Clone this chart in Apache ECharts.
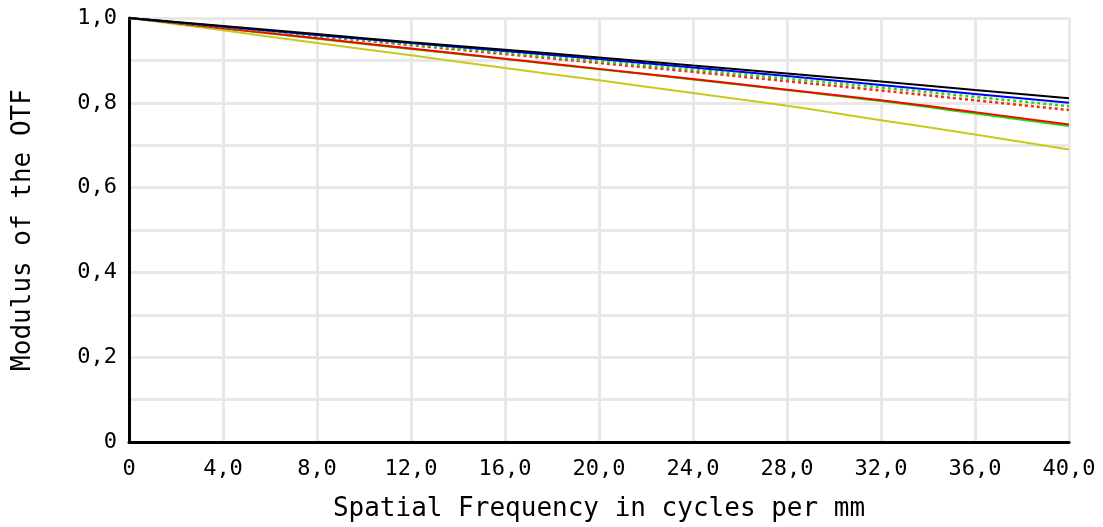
<!DOCTYPE html>
<html><head><meta charset="utf-8">
<script src="https://cdn.jsdelivr.net/npm/echarts@6/dist/echarts.min.js"></script>
<style>html,body{margin:0;padding:0;background:#fff}#c{width:1103px;height:527px}</style>
</head><body><div id="c"></div>
<script>
const freq = [0, 4, 8, 12, 16, 20, 24, 28, 32, 36, 40];
const blackSolid = [1, 0.981, 0.962, 0.943, 0.925, 0.907, 0.888, 0.869, 0.850, 0.830, 0.811];
const blueSolid = [1, 0.980, 0.960, 0.941, 0.922, 0.903, 0.883, 0.863, 0.842, 0.821, 0.800];
const greenDotted = [1, 0.979, 0.958, 0.938, 0.918, 0.898, 0.878, 0.857, 0.836, 0.814, 0.792];
const redDotted = [1, 0.978, 0.957, 0.936, 0.915, 0.894, 0.873, 0.851, 0.829, 0.806, 0.783];
const greenSolid = [1, 0.976, 0.951, 0.927, 0.903, 0.879, 0.855, 0.830, 0.804, 0.775, 0.745];
const redSolid = [1, 0.976, 0.952, 0.928, 0.904, 0.880, 0.856, 0.831, 0.806, 0.778, 0.749];
const yellowSolid = [1, 0.971, 0.941, 0.912, 0.882, 0.853, 0.823, 0.793, 0.759, 0.725, 0.690];

const font = '"DejaVu Sans Mono", monospace';
function fmt(v){ if (Math.abs(v) < 1e-9) return '0'; return v.toFixed(1).replace('.', ','); }
function mk(name, data, color, dotted, z){
  return { name, type:'line', data: freq.map((f,i)=>[f,data[i]]), symbol:'none', smooth:true, z: z,
    lineStyle:{ color, width: dotted ? 2.5 : 2, type: dotted ? [3,3] : 'solid' } };
}
const chart = echarts.init(document.getElementById('c'));
chart.setOption({
  animation:false,
  grid:{ left:129, right:34, top:18, bottom:85 },
  xAxis:{ type:'value', min:0, max:40, interval:4,
    name:'Spatial Frequency in cycles per mm', nameLocation:'middle', nameGap:54,
    nameTextStyle:{ fontFamily:font, fontSize:26, color:'#000' },
    axisLine:{ show:true, lineStyle:{ color:'#000', width:3 } },
    axisTick:{ show:false },
    axisLabel:{ fontFamily:font, fontSize:22, color:'#000', margin:16, formatter:fmt },
    splitLine:{ show:true, lineStyle:{ color:'#e8e8e8', width:3 } } },
  yAxis:{ type:'value', min:0, max:1, interval:0.1,
    name:'Modulus of the OTF', nameLocation:'middle', nameGap:93,
    nameTextStyle:{ fontFamily:font, fontSize:26, color:'#000' },
    axisLine:{ show:true, lineStyle:{ color:'#000', width:3 } },
    axisTick:{ show:false },
    axisLabel:{ fontFamily:font, fontSize:22, color:'#000', margin:12,
      formatter:v=> (Math.round(v*10)%2 ? '' : fmt(v)) },
    splitLine:{ show:true, lineStyle:{ color:'#e8e8e8', width:3 } } },
  series:[
    mk('yellow', yellowSolid, '#c8c81e', false, 2),
    mk('green', greenSolid, '#00ee00', false, 3),
    mk('red', redSolid, '#ff0000', false, 4),
    mk('redDot', redDotted, '#ff2020', true, 5),
    mk('greenDot', greenDotted, '#22dd00', true, 6),
    mk('blue', blueSolid, '#0000ff', false, 7),
    mk('black', blackSolid, '#000000', false, 8)
  ]
});
</script></body></html>
